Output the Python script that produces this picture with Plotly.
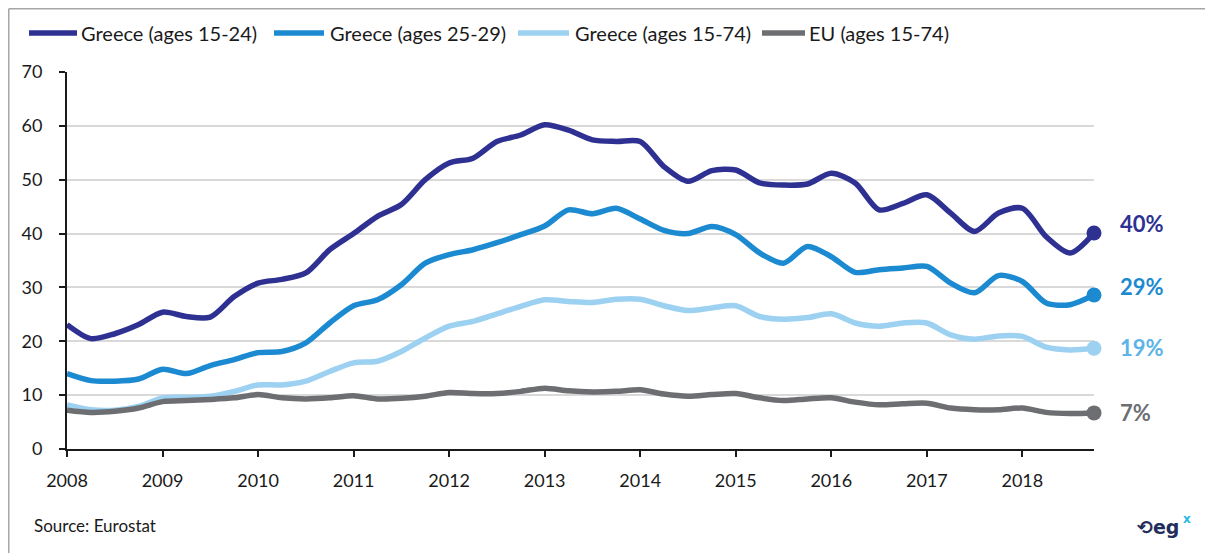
import plotly.graph_objects as go

# Quarterly time axis 2008Q1 .. 2018Q4 (44 points)
x_vals = [2008 + i * 0.25 for i in range(44)]

greece_15_24 = [23.1, 20.5, 21.4, 23.1, 25.4, 24.6, 24.5, 28.3, 30.8, 31.5, 32.7, 37.0,
                40.0, 43.2, 45.4, 50.0, 53.1, 54.0, 57.1, 58.3, 60.2, 59.2, 57.4, 57.1,
                57.1, 52.4, 49.7, 51.7, 51.8, 49.4, 49.0, 49.2, 51.2, 49.4, 44.4, 45.6,
                47.2, 43.8, 40.4, 43.8, 44.7, 39.4, 36.4, 40.1]
greece_25_29 = [14.0, 12.7, 12.6, 13.0, 14.8, 14.0, 15.5, 16.6, 17.9, 18.1, 19.7, 23.4,
                26.6, 27.7, 30.5, 34.5, 36.1, 37.0, 38.3, 39.8, 41.4, 44.4, 43.7, 44.7,
                42.7, 40.6, 40.0, 41.3, 39.8, 36.4, 34.5, 37.6, 35.7, 32.8, 33.3, 33.6,
                33.9, 30.8, 29.0, 32.2, 31.1, 27.1, 26.8, 28.6]
greece_15_74 = [8.2, 7.3, 7.2, 7.9, 9.5, 9.6, 9.8, 10.7, 11.9, 11.9, 12.6, 14.4,
                16.0, 16.3, 18.1, 20.6, 22.8, 23.7, 25.1, 26.5, 27.7, 27.4, 27.2, 27.8,
                27.8, 26.6, 25.7, 26.2, 26.6, 24.6, 24.1, 24.4, 25.1, 23.4, 22.8, 23.4,
                23.4, 21.2, 20.4, 21.0, 20.9, 18.9, 18.4, 18.7]
eu_15_74 = [7.2, 6.8, 7.0, 7.6, 8.8, 9.0, 9.2, 9.5, 10.1, 9.5, 9.3, 9.5,
            9.9, 9.3, 9.4, 9.8, 10.5, 10.3, 10.3, 10.7, 11.3, 10.8, 10.6, 10.7,
            11.0, 10.2, 9.8, 10.1, 10.3, 9.5, 9.0, 9.3, 9.5, 8.7, 8.2, 8.4,
            8.5, 7.6, 7.3, 7.3, 7.6, 6.8, 6.6, 6.7]

series_names = ["Greece (ages 15-24)", "Greece (ages 25-29)", "Greece (ages 15-74)", "EU (ages 15-74)"]
series_vals = [greece_15_24, greece_25_29, greece_15_74, eu_15_74]
colors = ["#2E3192", "#1C8AD1", "#9DD1F1", "#6D6E71"]
label_colors = ["#2E3192", "#1C8AD1", "#5DB3E6", "#6D6E71"]
end_labels = ["40%", "29%", "19%", "7%"]
label_y = [41.9, 30.2, 18.9, 6.8]
x_ticks = list(range(2008, 2019))

FONT = "Lato, Carlito, Calibri, sans-serif"

# Page body has an 8px margin; build the figure 8px smaller and offset accordingly
W, H = 1205, 545
L, T = 59, 64
PW, PH = 1027, 377


def px(xr):  # reference window x -> paper x
    return (xr - 67) / PW


def py(yr):  # reference window y -> paper y
    return (449 - yr) / PH


fig = go.Figure()
for name, vals, col in zip(series_names, series_vals, colors):
    fig.add_trace(go.Scatter(
        x=x_vals, y=vals, name=name, mode="lines", showlegend=False,
        line=dict(color=col, width=5.5, shape="spline", smoothing=0.8),
        cliponaxis=False,
    ))
for name, vals, col, lcol, lab, ly in zip(series_names, series_vals, colors, label_colors, end_labels, label_y):
    fig.add_trace(go.Scatter(
        x=[x_vals[-1]], y=[vals[-1]], mode="markers", showlegend=False,
        marker=dict(color=col, size=15), cliponaxis=False, hoverinfo="skip",
    ))
    fig.add_annotation(x=x_vals[-1], y=ly, text=f"<b>{lab}</b>", showarrow=False,
                       xanchor="left", yanchor="middle", xshift=24,
                       font=dict(family=FONT, size=22, color=lcol))

# Manual legend (line sample + label)
leg_line_x = [(29, 77), (274, 324), (518, 569), (762, 805)]
leg_text_x = [79, 328, 573, 807]
for name, col, (a, b), tx in zip(series_names, colors, leg_line_x, leg_text_x):
    fig.add_shape(type="line", xref="paper", yref="paper", x0=px(a), x1=px(b),
                  y0=py(33), y1=py(33), line=dict(color=col, width=5.5))
    fig.add_annotation(xref="paper", yref="paper", x=px(tx), y=py(33), text=name,
                       showarrow=False, xanchor="left", yanchor="middle",
                       font=dict(family=FONT, size=20, color="#1a1a1a"))

fig.update_layout(
    width=W, height=H,
    margin=dict(l=L, r=W - L - PW, t=T, b=H - T - PH),
    paper_bgcolor="white", plot_bgcolor="white",
    font=dict(family=FONT, size=18, color="#1a1a1a"),
    showlegend=False,
)
fig.update_xaxes(
    range=[2008, 2018.75], tickvals=x_ticks, ticktext=[str(t) for t in x_ticks],
    showgrid=False, showline=True, linecolor="#1a1a1a", linewidth=2,
    ticks="outside", ticklen=6, tickwidth=2, tickcolor="#1a1a1a",
    ticklabelstandoff=8,
    tickfont=dict(family=FONT, size=18, color="#1a1a1a"), zeroline=False,
)
fig.update_yaxes(
    range=[0, 70], dtick=10, showgrid=True, gridcolor="#D9D9D9", gridwidth=2,
    showline=True, linecolor="#1a1a1a", linewidth=2,
    ticks="outside", ticklen=6, tickwidth=2, tickcolor="#1a1a1a",
    ticklabelstandoff=13,
    tickfont=dict(family=FONT, size=18, color="#1a1a1a"), zeroline=False,
)

# Source and logo
fig.add_annotation(xref="paper", yref="paper", x=px(32), y=py(525),
                   text="Source: Eurostat", showarrow=False, xanchor="left", yanchor="middle",
                   font=dict(family=FONT, size=17, color="#1a1a1a"))
fig.add_annotation(xref="paper", yref="paper", x=px(1181), y=py(527),
                   text="<b>⟲eg</b>",
                   showarrow=False, xanchor="right", yanchor="middle",
                   font=dict(family="DejaVu Sans, sans-serif", size=19, color="#1F2E5C"))
fig.add_annotation(xref="paper", yref="paper", x=px(1181), y=py(519),
                   text="<b>x</b>",
                   showarrow=False, xanchor="left", yanchor="middle",
                   font=dict(family="DejaVu Sans, sans-serif", size=12, color="#29B6E6"))

# Frame lines (top and left) at the page edge
top_y = 1 + (T - 0.75) / PH
left_x = -(L - 0.75) / PW
fig.add_shape(type="line", xref="paper", yref="paper", x0=left_x, x1=(W - L) / PW,
              y0=top_y, y1=top_y, line=dict(color="#A6A6A6", width=1.5))
fig.add_shape(type="line", xref="paper", yref="paper", x0=left_x, x1=left_x,
              y0=top_y, y1=-(H - T - PH) / PH, line=dict(color="#A6A6A6", width=1.5))

fig.write_html("out.html")
